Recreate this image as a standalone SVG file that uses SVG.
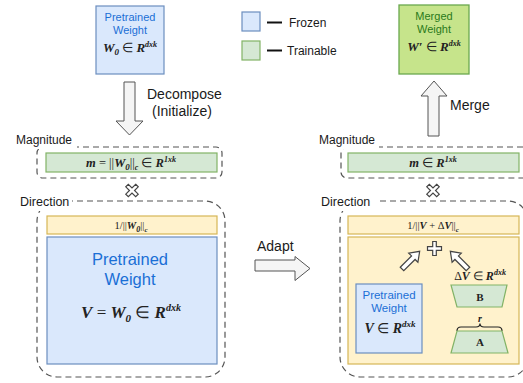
<svg xmlns="http://www.w3.org/2000/svg" width="523" height="383" viewBox="0 0 523 383">
<defs>
<style>
.lbl{font-family:"Liberation Sans",Arial,sans-serif;fill:#1a1a1a}
.blue{font-family:"Liberation Sans",Arial,sans-serif;fill:#1a6fd6;text-anchor:middle}
.grn{font-family:"Liberation Sans",Arial,sans-serif;fill:#2a7a1a;text-anchor:middle}
.math{font-family:"Liberation Serif","Times New Roman",serif;font-style:italic;font-weight:bold;fill:#222;text-anchor:middle}
.up{font-style:normal;font-weight:normal}
.frozen{fill:#dae8fc;stroke:#6c8ebf;stroke-width:1.2}
.train{fill:#d5e8d4;stroke:#82b366;stroke-width:1.2}
.yel{fill:#fff2cc;stroke:#d6b656;stroke-width:1.2}
.dash{fill:none;stroke:#555;stroke-width:1.2;stroke-dasharray:6 4}
.barrow{fill:#f5f5f5;stroke:#555;stroke-width:1}
.sym{fill:#fff;stroke:#444;stroke-width:1.2}
.bg{fill:#fff}
</style>
<path id="cross" d="M-1.8,-7 L1.8,-7 L1.8,-1.8 L7,-1.8 L7,1.8 L1.8,1.8 L1.8,7 L-1.8,7 L-1.8,1.8 L-7,1.8 L-7,-1.8 L-1.8,-1.8 Z"/>
<path id="sarrow" d="M0,-2.5 L16,-2.5 L16,-6.5 L25,0 L16,6.5 L16,2.5 L0,2.5 Z"/>
</defs>

<!-- Legend -->
<g id="legend">
<rect x="242" y="12" width="18" height="19" class="frozen"/>
<line x1="267" y1="22.5" x2="282" y2="22.5" stroke="#111" stroke-width="2"/>
<text x="289" y="27" class="lbl" font-size="12">Frozen</text>
<rect x="242" y="41" width="18" height="19" class="train"/>
<line x1="267" y1="50.5" x2="282" y2="50.5" stroke="#111" stroke-width="2"/>
<text x="287" y="55" class="lbl" font-size="12">Trainable</text>
</g>

<!-- Top pretrained weight -->
<g id="w0">
<rect x="96" y="6" width="68" height="68" class="frozen"/>
<text x="130" y="21" class="blue" font-size="11">Pretrained</text>
<text x="130" y="34" class="blue" font-size="11">Weight</text>
<text x="130" y="52" class="math" font-size="13">W<tspan font-size="9" dy="3">0</tspan><tspan class="up" dy="-3"> ∈ </tspan>R<tspan font-size="8" dy="-5">dxk</tspan></text>
</g>

<!-- Merged weight -->
<g id="merged">
<rect x="399" y="5" width="70" height="69" fill="#c6e48b" stroke="#6aa84f" stroke-width="1.3"/>
<text x="434" y="20" class="grn" font-size="11">Merged</text>
<text x="434" y="33" class="grn" font-size="11">Weight</text>
<text x="434" y="51" class="math" font-size="13">W′<tspan class="up"> ∈ </tspan>R<tspan font-size="8" dy="-5">dxk</tspan></text>
</g>

<!-- Left magnitude -->
<g id="mag-left">
<rect x="37" y="147" width="185" height="31" rx="6" class="dash"/>
<rect x="14" y="130" width="63" height="19" class="bg"/>
<text x="16" y="143.5" class="lbl" font-size="12">Magnitude</text>
<rect x="46" y="153" width="171" height="19" class="train"/>
<text x="131" y="167" class="math" font-size="12.5">m<tspan class="up"> = ||</tspan>W<tspan font-size="9" dy="3">0</tspan><tspan class="up" dy="-3">||</tspan><tspan font-size="8" dy="3">c</tspan><tspan class="up" dy="-3"> ∈ </tspan>R<tspan font-size="8" dy="-5">1xk</tspan></text>
</g>

<!-- Left direction -->
<g id="dir-left">
<rect x="37" y="201" width="188" height="176" rx="20" class="dash"/>
<rect x="17" y="192" width="55" height="19" class="bg"/>
<text x="20" y="205.5" class="lbl" font-size="12.5">Direction</text>
<rect x="47" y="216" width="170" height="18" class="yel"/>
<text x="131" y="229" class="math" font-size="10.5"><tspan class="up">1/||</tspan>W<tspan font-size="8" dy="2.5">0</tspan><tspan class="up" dy="-2.5">||</tspan><tspan font-size="7" dy="2.5">c</tspan></text>
<rect x="47" y="237" width="170" height="127" class="frozen"/>
<text x="130" y="265" class="blue" font-size="16.5">Pretrained</text>
<text x="130" y="285" class="blue" font-size="16.5">Weight</text>
<text x="131" y="318" class="math" font-size="17">V<tspan class="up"> = </tspan>W<tspan font-size="11" dy="4">0</tspan><tspan class="up" dy="-4"> ∈ </tspan>R<tspan font-size="10" dy="-7">dxk</tspan></text>
</g>

<!-- Right magnitude -->
<g id="mag-right">
<rect x="341" y="147" width="192" height="31" rx="6" class="dash"/>
<rect x="317" y="130" width="62" height="19" class="bg"/>
<text x="319" y="143.5" class="lbl" font-size="12">Magnitude</text>
<rect x="348" y="153" width="171" height="19" class="train"/>
<text x="433" y="167" class="math" font-size="12.5">m<tspan class="up"> ∈ </tspan>R<tspan font-size="8" dy="-5">1xk</tspan></text>
</g>

<!-- Right direction -->
<g id="dir-right">
<rect x="340" y="201" width="188" height="176" rx="20" class="dash"/>
<rect x="318" y="192" width="58" height="19" class="bg"/>
<text x="321" y="205.5" class="lbl" font-size="12.5">Direction</text>
<rect x="348" y="216" width="171" height="18" class="yel"/>
<text x="433" y="229" class="math" font-size="10.5"><tspan class="up">1/||</tspan>V<tspan class="up"> + Δ</tspan>V<tspan class="up">||</tspan><tspan font-size="7" dy="2.5">c</tspan></text>
<rect x="348" y="237" width="171" height="127" class="yel"/>
</g>

<g id="pretrained-small">
<rect x="356" y="284" width="66" height="69" class="frozen"/>
<text x="389" y="299" class="blue" font-size="11.5">Pretrained</text>
<text x="389" y="312" class="blue" font-size="11.5">Weight</text>
<text x="390" y="333" class="math" font-size="14">V<tspan class="up"> ∈ </tspan>R<tspan font-size="9" dy="-6">dxk</tspan></text>
</g>

<g id="lora-b">
<text x="480" y="280" class="math" font-size="12"><tspan class="up">Δ</tspan>V<tspan class="up"> ∈ </tspan>R<tspan font-size="8" dy="-5">dxk</tspan></text>
<polygon points="451,285 507,285 502,307 457,307" class="train"/>
<text x="480" y="301" class="math" font-size="11" style="font-style:normal">B</text>
</g>

<g id="lora-a">
<path d="M457,331 Q457,327 461,327 L476,327 Q480,327 480,323.5 Q480,327 484,327 L498,327 Q502,327 502,331" fill="none" stroke="#222" stroke-width="1.2"/>
<text x="480" y="322" class="math" font-size="10">r</text>
<polygon points="457,331 502,331 508,353 451,353" class="train"/>
<text x="480" y="346" class="math" font-size="11" style="font-style:normal">A</text>
</g>

<!-- Connectors -->
<g id="connectors">
<polygon points="124,82 135,82 135,121 143,121 129.5,135 116,121 124,121" class="barrow"/>
<text x="147" y="99" class="lbl" font-size="14">Decompose</text>
<text x="152" y="116" class="lbl" font-size="14">(Initialize)</text>
<polygon points="428,136 439,136 439,96 447,96 434,81 421,96 428,96" class="barrow"/>
<text x="450" y="110" class="lbl" font-size="14">Merge</text>
<polygon points="255,260 295,260 295,256.5 310,268.5 295,280.5 295,271 255,271" class="barrow"/>
<text x="257" y="251" class="lbl" font-size="14">Adapt</text>
<use href="#cross" class="sym" transform="translate(132,190.5) rotate(45)"/>
<use href="#cross" class="sym" transform="translate(433,190.5) rotate(45)"/>
<use href="#cross" class="sym" transform="translate(434.5,248.5)"/>
<use href="#sarrow" class="sym" transform="translate(402,269) rotate(-45)"/>
<use href="#sarrow" class="sym" transform="translate(468,269) rotate(-135)"/>
</g>
</svg>
